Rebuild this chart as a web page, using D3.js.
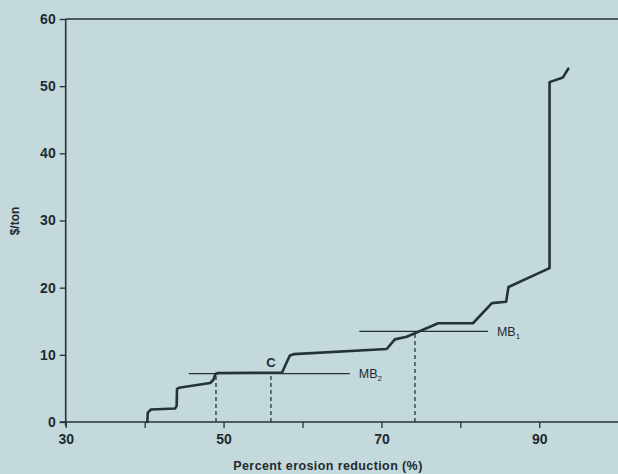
<!DOCTYPE html>
<html><head><meta charset="utf-8">
<script src="https://cdn.jsdelivr.net/npm/d3@7"></script>
<style>
html,body{margin:0;padding:0;background:#c4d9dc;}
svg{display:block;}
text{font-family:"Liberation Sans",Arial,Helvetica,sans-serif;fill:#1f2a2e;}
</style></head>
<body>
<script>
// Cost curve: percent erosion reduction (x) vs $/ton (y)
const curveX = [40.34, 40.4, 40.8, 43.85, 44.06, 44.1, 44.35, 48.3, 48.7, 48.98, 49.3, 57.4, 57.5, 58.0, 58.4, 58.9, 70.67, 71.7, 73.2, 77.2, 81.6, 84.0, 85.8, 86.1, 91.3, 91.3, 93.0, 93.67];
const curveY = [0, 1.4, 1.86, 2.0, 2.4, 4.9, 5.1, 5.8, 6.25, 7.15, 7.3, 7.35, 7.6, 8.9, 9.9, 10.1, 10.87, 12.3, 12.7, 14.7, 14.7, 17.7, 17.9, 20.1, 22.9, 50.6, 51.3, 52.6];
// Marginal benefit lines
const mbNames = ["MB1", "MB2"];
const mbY = [13.5, 7.2];
const mbX0 = [67.2, 45.6];
const mbX1 = [83.5, 66.0];
// Dashed drop lines
const dropX = [49.04, 56.0, 74.25];
const dropY = [7.2, 7.2, 13.5];
// Ticks
const xTicks = [30, 40, 50, 60, 70, 80, 90];
const xTickLabels = ["30", "", "50", "", "70", "", "90"];
const yTicks = [0, 10, 20, 30, 40, 50, 60];

const W = 618, H = 474;
const svg = d3.select("body").append("svg").attr("width", W).attr("height", H);
svg.append("rect").attr("width", W).attr("height", H).attr("fill", "#c4d9dc");

const x = d3.scaleLinear().domain([30, 100]).range([65.7, 618.2]);
const y = d3.scaleLinear().domain([0, 60]).range([422, 19]);
const ink = "#24323a";

// top border
svg.append("line").attr("x1", x(30)).attr("x2", W).attr("y1", y(60)).attr("y2", y(60))
  .attr("stroke", ink).attr("stroke-width", 1.6);

// x axis
const xAxis = d3.axisBottom(x).tickValues(xTicks).tickFormat((d, i) => xTickLabels[i]).tickSize(6).tickSizeOuter(0);
const gx = svg.append("g").attr("transform", `translate(0,${y(0)})`).call(xAxis);
gx.select(".domain").attr("stroke", ink).attr("stroke-width", 1.6).attr("d", `M${x(30)-6},0H${W}`);
gx.selectAll(".tick line").attr("stroke", ink).attr("stroke-width", 1.3);
gx.selectAll(".tick text").attr("dy", "0.9em").style("font-size", "14px").style("font-weight", "bold").attr("fill", ink);

// y axis
const yAxis = d3.axisLeft(y).tickValues(yTicks).tickSize(6).tickSizeOuter(0).tickPadding(4);
const gy = svg.append("g").attr("transform", `translate(${x(30)},0)`).call(yAxis);
gy.select(".domain").attr("stroke", ink).attr("stroke-width", 1.6).attr("d", `M0,${y(60)}V${y(0)+4}`);
gy.selectAll(".tick line").attr("stroke", ink).attr("stroke-width", 1.3);
gy.selectAll(".tick text").style("font-size", "14px").style("font-weight", "bold").attr("fill", ink);

// axis titles
svg.append("text").attr("x", 328).attr("y", 470).attr("text-anchor", "middle")
  .style("font-size", "12.5px").style("font-weight", "bold").style("letter-spacing", "0.4px").attr("fill", ink)
  .text("Percent erosion reduction (%)");
svg.append("text").attr("transform", "translate(19,221) rotate(-90)").attr("text-anchor", "middle")
  .style("font-size", "12px").style("font-weight", "bold").attr("fill", ink).text("$/ton");

// dashed drop lines
dropX.forEach((dx, i) => {
  svg.append("line").attr("x1", x(dx)).attr("x2", x(dx)).attr("y1", y(0)).attr("y2", y(dropY[i]))
    .attr("stroke", ink).attr("stroke-width", 1.3).attr("stroke-dasharray", "4,3");
});

// MB lines
mbY.forEach((my, i) => {
  svg.append("line").attr("x1", x(mbX0[i])).attr("x2", x(mbX1[i])).attr("y1", y(my)).attr("y2", y(my))
    .attr("stroke", ink).attr("stroke-width", 1.4);
  const t = svg.append("text").attr("x", x(mbX1[i]) + 9).attr("y", y(my) + 4.5)
    .style("font-size", "12.5px").attr("fill", ink);
  t.append("tspan").text("MB");
  t.append("tspan").attr("dy", 3).style("font-size", "8px").text(mbNames[i].slice(2));
});

// C label
svg.append("text").attr("x", x(56)).attr("y", y(7.2) - 7).attr("text-anchor", "middle")
  .style("font-size", "13px").style("font-weight", "bold").attr("fill", ink).text("C");

// cost curve
const pts = curveX.map((d, i) => [d, curveY[i]]);
const line = d3.line().x(d => x(d[0])).y(d => y(d[1]));
svg.append("path").datum(pts).attr("d", line).attr("fill", "none").attr("stroke", ink)
  .attr("stroke-width", 2.6).attr("stroke-linejoin", "round").attr("stroke-linecap", "round");
</script>
</body></html>
